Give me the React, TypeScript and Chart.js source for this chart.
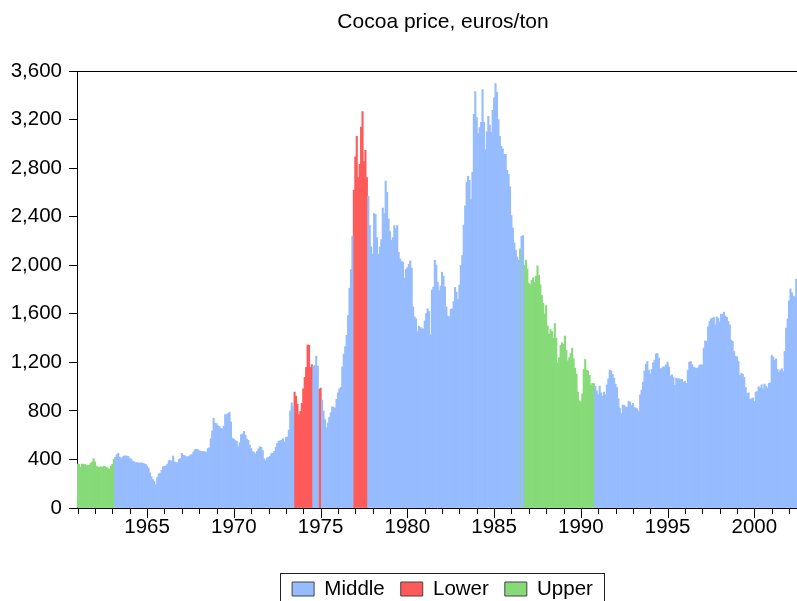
import React, { useEffect, useRef } from "react";
import { Chart, registerables } from "chart.js";

Chart.register(...registerables);

const TITLE = "Cocoa price, euros/ton";
const FONT = '"Liberation Sans", Arial, Helvetica, sans-serif';
const START_YEAR = 1961;
const END_YEAR = 2002;
const END_MONTH = 6;

// Monthly prices, euros/ton
const prices1960s = [
  362, 360, 335, 362, 360, 358, 351, 350, 352, 368, 380, 406,
  380, 346, 338, 335, 340, 336, 345, 340, 335, 324, 322, 346,
  360, 401, 417, 440, 450, 420, 406, 420, 428, 430, 428, 425,
  408, 404, 386, 382, 373, 375, 372, 370, 373, 368, 365, 360,
  345, 330, 290, 258, 235, 218, 192, 250, 280, 287, 310, 340,
  345, 346, 362, 390, 392, 388, 428, 380, 374, 373, 400, 408,
  450, 436, 432, 424, 423, 425, 437, 440, 461, 480, 484, 482,
  472, 468, 467, 465, 462, 460, 490, 496, 571, 636, 740, 700,
  695, 678, 672, 655, 653, 675, 768, 772, 779, 790, 708, 575,
];
const prices1970s = [
  568, 556, 550, 505, 538, 604, 610, 631, 600, 568, 558, 518,
  490, 465, 458, 445, 467, 488, 505, 500, 472, 406, 390, 412,
  418, 428, 450, 452, 467, 500, 532, 550, 554, 560, 571, 543,
  582, 585, 642, 800, 867, 834, 955, 922, 856, 768, 796, 862,
  982, 1076, 1158, 1344, 1340, 1158, 1180, 1169, 1175, 1251, 1169, 977,
  988, 890, 800, 730, 660, 700, 745, 785, 834, 830, 823, 895,
  949, 982, 993, 1163, 1268, 1330, 1422, 1586, 1811, 1965, 2240, 2618,
  2892, 3062, 2722, 2832, 3139, 3265, 2854, 2947, 2722, 2568, 2327, 2151,
  2091, 2426, 2420, 2228, 2091, 2151, 2212, 2470, 2426, 2694, 2601, 2382,
  2278, 2206, 2228, 2327, 2299, 2327, 2107, 2052, 2031, 2025, 1893, 1965,
];
const prices1980s = [
  1980, 2008, 2036, 1976, 1657, 1575, 1558, 1454, 1498, 1487, 1476, 1476,
  1542, 1602, 1641, 1619, 1427, 1795, 1820, 2042, 2003, 1860, 1790, 1828,
  1943, 1910, 1822, 1657, 1581, 1575, 1636, 1641, 1701, 1817, 1778, 1720,
  1838, 2000, 2080, 2330, 2490, 2684, 2733, 2700, 2541, 2766, 3243, 3430,
  3216, 3084, 3134, 3178, 3447, 3178, 2953, 3100, 3227, 3155, 3095, 3276,
  3381, 3496, 3424, 3200, 3062, 2980, 2958, 2914, 2914, 2782, 2749, 2645,
  2409, 2305, 2184, 2124, 2069, 2042, 2135, 2239, 2245, 2000, 2042, 1970,
  1850, 1840, 1875, 1899, 1860, 1910, 1995, 1918, 1840, 1751, 1685, 1597,
  1668, 1500, 1432, 1471, 1454, 1399, 1520, 1399, 1196, 1240, 1339, 1361,
  1350, 1416, 1300, 1213, 1240, 1273, 1317, 1229, 1152, 1103, 955, 883,
];
const prices1990s = [
  873, 940, 1141, 1224, 1136, 1130, 1092, 1015, 1026, 1026, 1004, 966,
  933, 1004, 949, 922, 955, 933, 1015, 1064, 1136, 1130, 1100, 1070,
  1020, 993, 900, 823, 779, 848, 845, 834, 828, 878, 873, 845,
  862, 828, 823, 817, 796, 933, 971, 1037, 1130, 1185, 1207, 1136,
  1103, 1141, 1196, 1218, 1268, 1273, 1235, 1147, 1152, 1163, 1163, 1180,
  1202, 1163, 1087, 1098, 1076, 1010, 1070, 1064, 1064, 1059, 1059, 1037,
  1042, 1026, 1136, 1202, 1207, 1180, 1160, 1155, 1150, 1155, 1177, 1180,
  1177, 1317, 1377, 1372, 1493, 1537, 1558, 1564, 1570, 1509, 1575, 1564,
  1531, 1597, 1597, 1613, 1581, 1570, 1537, 1509, 1383, 1372, 1290, 1251,
  1246, 1207, 1092, 1109, 1103, 1076, 993, 944, 949, 895, 900, 906,
];
const prices2000s = [
  878, 955, 960, 999, 988, 1015, 982, 1021, 1004, 988, 1026, 1032,
  1257, 1246, 1218, 1229, 1141, 1120, 1136, 1147, 1125, 1290, 1482, 1558,
  1706, 1805, 1773, 1745, 1740, 1885,
];

// Regime periods (inclusive)
const lowerPeriods = [
  ["1973M07", "1974M07"],
  ["1974M12", "1975M01"],
  ["1976M12", "1977M09"],
];
const upperPeriods = [
  ["1961M01", "1963M02"],
  ["1986M07", "1986M07"],
  ["1986M10", "1990M10"],
];

const seriesNames = ["Middle", "Lower", "Upper"];
const seriesColors = ["rgb(150,188,255)", "rgb(255,90,90)", "rgb(134,219,120)"];

const yTicks = [0, 400, 800, 1200, 1600, 2000, 2400, 2800, 3200, 3600];
const labeledYears = [1965, 1970, 1975, 1980, 1985, 1990, 1995, 2000];

const months: string[] = [];
for (let y = START_YEAR; y <= END_YEAR; y++) {
  for (let m = 1; m <= 12; m++) {
    if (y === END_YEAR && m > END_MONTH) break;
    months.push(`${y}M${String(m).padStart(2, "0")}`);
  }
}
const prices = [...prices1960s, ...prices1970s, ...prices1980s, ...prices1990s, ...prices2000s];

const inPeriods = (label: string, periods: string[][]) =>
  periods.some(([a, b]) => label >= a && label <= b);

function regimeOf(label: string) {
  if (inPeriods(label, lowerPeriods)) return 1;
  if (inPeriods(label, upperPeriods)) return 2;
  return 0;
}

// The original frame is a little wider than the visible plot: nudge title & legend.
const TITLE_SHIFT = 6;
const LEGEND_SHIFT = 5.5;

const framePlugin = {
  id: "framePlugin",
  afterLayout(chart: any) {
    const t = chart.titleBlock;
    if (t) {
      t.left += TITLE_SHIFT;
      t.right += TITLE_SHIFT;
    }
    const lg = chart.legend;
    if (lg) {
      lg.left += LEGEND_SHIFT;
      lg.right += LEGEND_SHIFT;
    }
  },
  afterDraw(chart: any) {
    const { ctx, chartArea, scales } = chart;
    const x = scales.x;
    ctx.save();
    ctx.strokeStyle = "#000";
    ctx.lineWidth = 1;
    // top border
    ctx.beginPath();
    ctx.moveTo(chartArea.left, Math.round(chartArea.top) + 0.5);
    ctx.lineTo(chartArea.right, Math.round(chartArea.top) + 0.5);
    ctx.stroke();
    // year tick marks
    for (let i = 0; i < months.length; i++) {
      if (!months[i].endsWith("M01")) continue;
      const year = parseInt(months[i].slice(0, 4), 10);
      const px = Math.round(x.getPixelForValue(i)) + 0.5;
      const len = labeledYears.includes(year) ? 10 : 6;
      ctx.beginPath();
      ctx.moveTo(px, chartArea.bottom);
      ctx.lineTo(px, chartArea.bottom + len);
      ctx.stroke();
    }
    // legend frame
    const lg = chart.legend;
    if (lg && lg.lineWidths && lg.lineWidths.length) {
      const pad = lg.options.labels.padding;
      const lw = lg.lineWidths[0];
      const x0 = (lg.left + pad + lg.right - lw) / 2;
      const left = Math.round(x0 - 12) + 0.5;
      const right = Math.round(x0 + lw - pad + 11) + 0.5;
      const top = Math.round(lg.top + pad - 6) + 0.5;
      ctx.strokeStyle = "#222";
      ctx.strokeRect(left, top, right - left, chart.height + 10 - top);
    }
    ctx.restore();
  },
};

export default function App() {
  const canvasRef = useRef<HTMLCanvasElement | null>(null);

  useEffect(() => {
    const canvas = canvasRef.current;
    if (!canvas) return;
    const datasets = seriesNames.map((name, k) => ({
      label: name,
      data: prices.map((v, i) => (regimeOf(months[i]) === k ? v : null)),
      backgroundColor: seriesColors[k],
      borderWidth: 0,
      barPercentage: 1,
      categoryPercentage: 1,
    }));

    const chart = new Chart(canvas, {
      type: "bar",
      data: { labels: months, datasets },
      plugins: [framePlugin],
      options: {
        responsive: false,
        animation: false,
        devicePixelRatio: 1,
        layout: { padding: { left: 0, right: 0, top: 0, bottom: -8.25 } },
        plugins: {
          tooltip: { enabled: false },
          title: {
            display: true,
            text: TITLE,
            color: "#000",
            fullSize: false,
            font: { family: FONT, size: 21, weight: "normal" },
            padding: { top: 10, bottom: 35.8 },
          },
          legend: {
            display: true,
            position: "bottom",
            fullSize: false,
            labels: {
              color: "#000",
              font: { family: FONT, size: 20.5 },
              boxWidth: 22,
              boxHeight: 14,
              padding: 16,
              generateLabels: (chart: any) =>
                chart.data.datasets.map((ds: any, i: number) => ({
                  text: ds.label,
                  fillStyle: ds.backgroundColor,
                  strokeStyle: "#444",
                  lineWidth: 1,
                  hidden: false,
                  datasetIndex: i,
                })),
            },
          },
        },
        scales: {
          x: {
            type: "category",
            stacked: true,
            offset: true,
            grid: {
              display: true,
              drawOnChartArea: false,
              drawTicks: true,
              tickLength: 7,
              color: "rgba(0,0,0,0)",
              tickColor: "rgba(0,0,0,0)",
            },
            border: { display: true, color: "#000", width: 1 },
            ticks: {
              autoSkip: false,
              maxRotation: 0,
              minRotation: 0,
              padding: 0,
              color: "#000",
              font: { family: FONT, size: 20.5 },
              callback: (_v: any, i: number) => {
                const lab = months[i];
                if (!lab || !lab.endsWith("M01")) return "";
                const yr = parseInt(lab.slice(0, 4), 10);
                return labeledYears.includes(yr) ? String(yr) : "";
              },
            },
            afterFit: (s: any) => {
              s.height = 54.75;
            },
          },
          y: {
            type: "linear",
            stacked: true,
            min: yTicks[0],
            max: yTicks[yTicks.length - 1],
            grid: { drawOnChartArea: false, drawTicks: true, tickLength: 8, color: "#000" },
            border: { display: true, color: "#000", width: 1 },
            ticks: {
              stepSize: yTicks[1] - yTicks[0],
              padding: 7,
              color: "#000",
              font: { family: FONT, size: 20.5 },
              callback: (v: any) => Number(v).toLocaleString("en-US"),
            },
            afterFit: (s: any) => {
              s.width = 77;
            },
          },
        },
      },
    } as any);
    return () => chart.destroy();
  }, []);

  return (
    <div style={{ position: "absolute", left: 0, top: 0, width: 797, height: 601, overflow: "hidden", background: "#fff" }}>
      <canvas ref={canvasRef} width={797} height={601} style={{ width: 797, height: 601, display: "block" }} />
    </div>
  );
}
